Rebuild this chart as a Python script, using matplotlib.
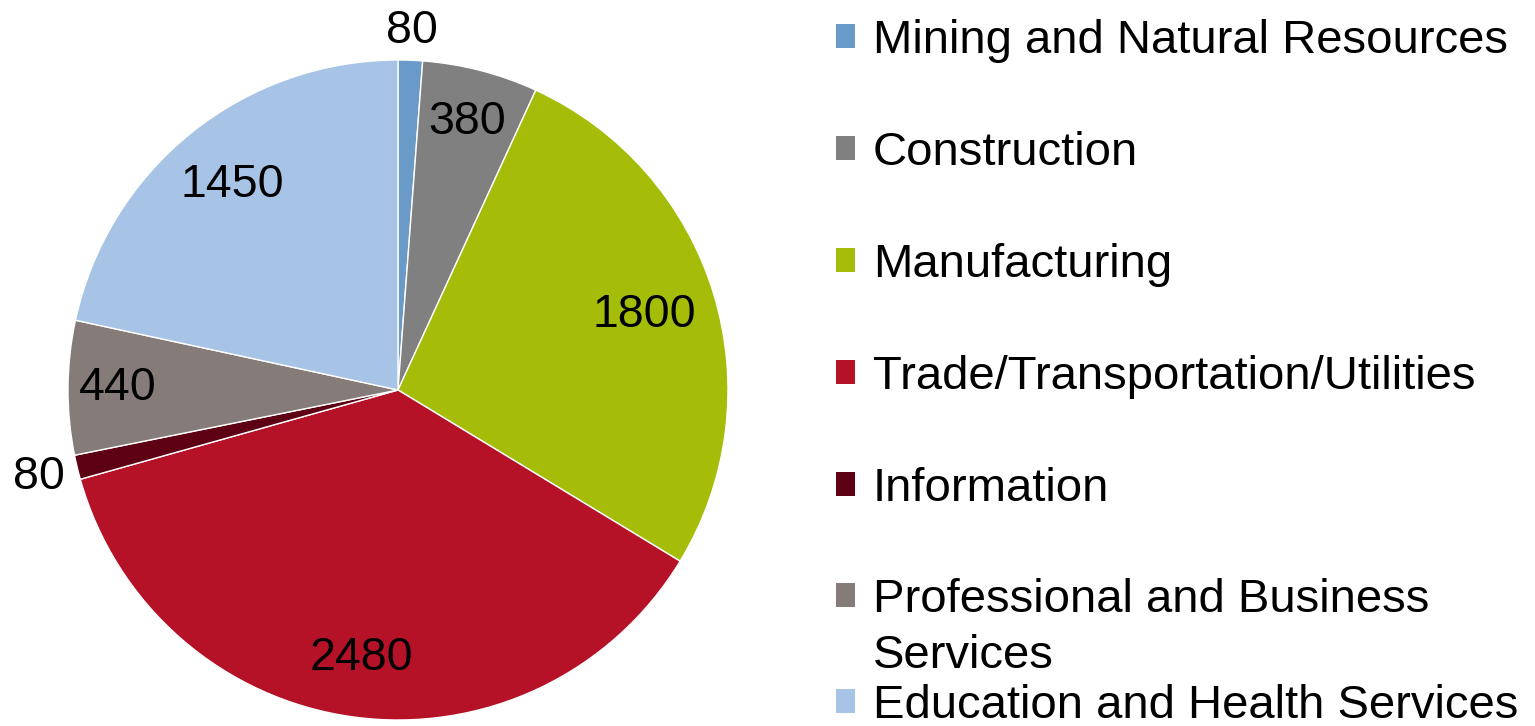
import numpy as np
import matplotlib.pyplot as plt
from matplotlib.patches import Rectangle

plt.rcParams['font.family'] = ['Liberation Sans', 'DejaVu Sans']

# data
sectors = ['Mining and Natural Resources', 'Construction', 'Manufacturing',
           'Trade/Transportation/Utilities', 'Information',
           'Professional and Business\nServices', 'Education and Health Services']
values = [80, 380, 1800, 2480, 80, 440, 1450]
colors = ['#6A9AC8', '#808080', '#A5BC08', '#B51228', '#5E0014', '#857C7A', '#A7C3E6']

# label distance (fraction of radius) for each slice
label_r = [1.09, 0.84, 0.78, 0.82, 1.12, 0.85, 0.80]

W, H = 1535, 726
fig = plt.figure(figsize=(W / 100, H / 100), dpi=100)

cx, cy, R = 398, 390, 330
ax = fig.add_axes([(cx - R) / W, (H - cy - R) / H, 2 * R / W, 2 * R / H])
wedges, _ = ax.pie(values, colors=colors, startangle=90, counterclock=False,
                   radius=1, wedgeprops=dict(edgecolor='white', linewidth=1))
ax.set_xlim(-1, 1)
ax.set_ylim(-1, 1)
ax.set_aspect('equal')
ax.axis('off')

# value labels
total = sum(values)
start = 90.0
for v, r in zip(values, label_r):
    span = 360.0 * v / total
    mid = np.deg2rad(start - span / 2)
    start -= span
    ax.text(r * np.cos(mid), r * np.sin(mid), str(v), fontsize=33.5,
            ha='center', va='center', clip_on=False)

# legend drawn by hand (Excel-like layout)
baselines = [53, 165, 277, 389, 501, 612, 718]
for name, col, b in zip(sectors, colors, baselines):
    lines = name.split('\n')
    fig.patches.append(Rectangle((836 / W, 1 - (b - 5) / H), 19 / W, 24 / H,
                                 transform=fig.transFigure, facecolor=col,
                                 edgecolor='none'))
    for i, ln in enumerate(lines):
        fig.text(873 / W, 1 - (b + 56 * i) / H, ln, fontsize=34,
                 ha='left', va='baseline')

fig.savefig('out.png', dpi=100)
